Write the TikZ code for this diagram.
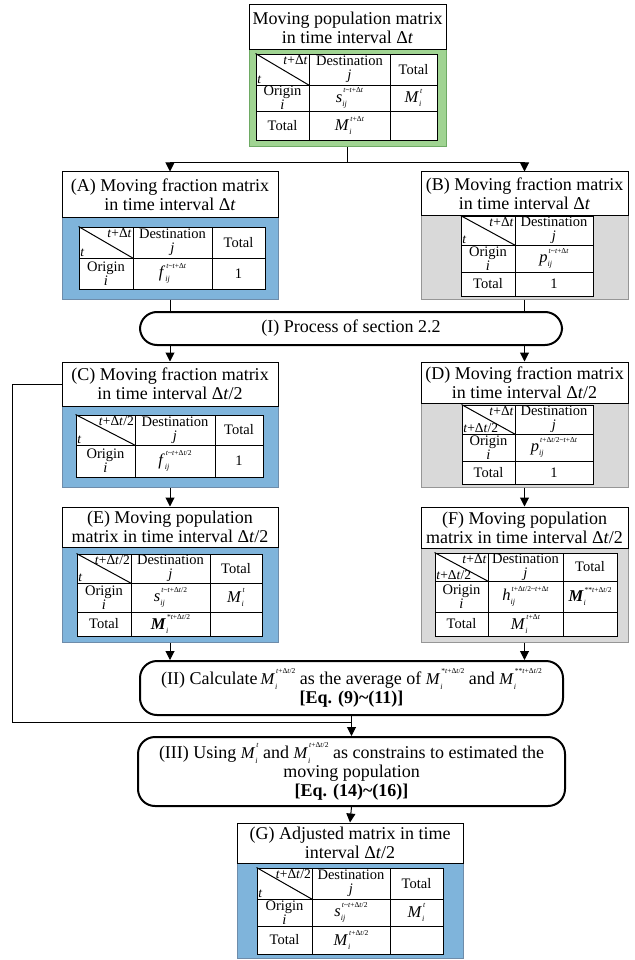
\documentclass[tikz,border=0pt]{standalone}
\usepackage{fontspec}
\setmainfont{Liberation Serif}
\usetikzlibrary{arrows.meta}

\definecolor{panelblue}{RGB}{127,180,219}
\definecolor{panelblueline}{RGB}{110,140,170}
\definecolor{panelgreen}{RGB}{160,212,146}
\definecolor{panelgreenline}{RGB}{110,170,100}
\definecolor{panelgray}{RGB}{217,217,217}
\definecolor{panelgrayline}{RGB}{150,150,150}

\newcommand{\titlefont}{\fontsize{18}{19}\selectfont}
\newcommand{\tabfont}{\fontsize{14.5}{14}\selectfont}
\newcommand{\cornerfont}{\fontsize{13.5}{13.5}\selectfont}
\newcommand{\Dt}{Δ\textit{t}}
\newcommand{\tsym}[3]{{\fontsize{16.5}{16.5}\selectfont\textit{#1}}\rlap{\raisebox{-0.6ex}{\fontsize{8}{8}\selectfont\textit{#2}}}\hspace{1pt}\raisebox{1.4ex}{\fontsize{7.5}{8}\selectfont #3}}

\tikzset{
  frame/.style = {draw, line width=1pt, fill=white, inner sep=0pt},
  frame text/.style = {inner sep=0pt, align=center, font=\titlefont},
  cell/.style = {draw, line width=0.9pt, fill=white, inner sep=0pt},
  cell text/.style = {inner sep=0pt, align=center, font=\tabfont},
  process/.style = {draw, line width=2pt, rounded corners=17pt, fill=white, inner sep=0pt},
  process text/.style = {inner sep=0pt, align=center, font=\titlefont},
  bluepanel/.style = {draw=panelblueline, line width=1pt, fill=panelblue, inner sep=0pt},
  greenpanel/.style = {draw=panelgreenline, line width=1pt, fill=panelgreen, inner sep=0pt},
  graypanel/.style = {draw=panelgrayline, line width=1pt, fill=panelgray, inner sep=0pt},
  corner/.style = {inner sep=1.5pt, font=\cornerfont},
  link/.style = {line width=1pt},
  flow/.style = {link, -{Triangle[width=9pt,length=9pt]}}
}

% panel behind a table: name, left, top, right, bottom
\newcommand{\panelat}[6][bluepanel]{%
  \node[#1, minimum width={(#5-#3)*1pt}, minimum height={(#6-#4)*1pt}]
    (#2) at ({(#3+#5)/2},{(#4+#6)/2}) {};}
% box with text: name, left, top, right, bottom, text
\newcommand{\boxat}[7][cell]{%
  \node[#1, minimum width={(#5-#3)*1pt}, minimum height={(#6-#4)*1pt}]
    (#2) at ({(#3+#5)/2},{(#4+#6)/2}) {};
  \node[#1 text] (#2-x) at (#2.center) {#7};}
% split header cell
\newcommand{\headcell}[7]{%
  \boxat{#1}{#2}{#3}{#4}{#5}{}
  \draw[link] (#1.north west) -- (#1.south east);
  \node[corner, anchor=north east] (#1-up) at (#1.north east) {#6};
  \node[corner, anchor=south west] (#1-lo) at (#1.south west) {#7};}

\begin{document}
\begin{tikzpicture}[x=1pt, y=-1pt]
  \useasboundingbox (0,0) rectangle (634,960);

  % moving population, interval dt
  \panelat[greenpanel]{topp}{249}{50}{446}{147}
  \boxat[frame]{top}{249}{5}{446}{50}{Moving population matrix\\ in time interval \Dt}
  \headcell{s0}{256}{54}{309}{85}{\textit{t}+\Dt}{\textit{t}}
  \boxat{s1}{309}{54}{390}{85}{Destination\\ \textit{j}}
  \boxat{s2}{390}{54}{437}{85}{Total}
  \boxat{s3}{256}{85}{309}{111}{Origin\\ \textit{i}}
  \boxat{s4}{309}{85}{390}{111}{\tsym{s}{ij}{\textit{t}\textasciitilde\textit{t}+\Dt}}
  \boxat{s5}{390}{85}{437}{111}{\tsym{M}{i}{\textit{t}}}
  \boxat{s6}{256}{111}{309}{140}{Total}
  \boxat{s7}{309}{111}{390}{140}{\tsym{M}{i}{\textit{t}+\Dt}}
  \boxat{s8}{390}{111}{437}{140}{}

  % (A)
  \panelat{ap}{62}{217}{278}{299}
  \boxat[frame]{A}{62}{172}{278}{217}{(A) Moving fraction matrix\\ in time interval \Dt}
  \headcell{a0}{79}{227}{133}{258}{\textit{t}+\Dt}{\textit{t}}
  \boxat{a1}{133}{227}{212}{258}{Destination\\ \textit{j}}
  \boxat{a2}{212}{227}{265}{258}{Total}
  \boxat{a3}{79}{258}{133}{289}{Origin\\ \textit{i}}
  \boxat{a4}{133}{258}{212}{289}{\tsym{f}{ij}{\textit{t}\textasciitilde\textit{t}+\Dt}}
  \boxat{a5}{212}{258}{265}{289}{1}

  % (B)
  \panelat[graypanel]{bp}{421}{215}{628}{299}
  \boxat[frame]{B}{421}{172}{628}{215}{(B) Moving fraction matrix\\ in time interval \Dt}
  \headcell{b0}{461}{216}{515}{245}{\textit{t}+\Dt}{\textit{t}}
  \boxat{b1}{515}{216}{593}{245}{Destination\\ \textit{j}}
  \boxat{b2}{461}{245}{515}{272}{Origin\\ \textit{i}}
  \boxat{b3}{515}{245}{593}{272}{\tsym{p}{ij}{\textit{t}\textasciitilde\textit{t}+\Dt}}
  \boxat{b4}{461}{272}{515}{296}{Total}
  \boxat{b5}{515}{272}{593}{296}{1}

  % (I)
  \boxat[process]{p1}{140}{312}{562}{345}{(I) Process of section 2.2}

  % (C)
  \panelat{cp}{62}{406}{278}{487}
  \boxat[frame]{C}{62}{362}{278}{406}{(C) Moving fraction matrix\\ in time interval \Dt/2}
  \headcell{c0}{76}{415}{135}{445}{\textit{t}+\Dt/2}{\textit{t}}
  \boxat{c1}{135}{415}{215}{445}{Destination\\ \textit{j}}
  \boxat{c2}{215}{415}{263}{445}{Total}
  \boxat{c3}{76}{445}{135}{477}{Origin\\ \textit{i}}
  \boxat{c4}{135}{445}{215}{477}{\tsym{f}{ij}{\textit{t}\textasciitilde\textit{t}+\Dt/2}}
  \boxat{c5}{215}{445}{263}{477}{1}

  % (D)
  \panelat[graypanel]{dp}{421}{403}{628}{487}
  \boxat[frame]{D}{421}{362}{628}{403}{(D) Moving fraction matrix\\ in time interval \Dt/2}
  \headcell{d0}{462}{405}{515}{434}{\textit{t}+\Dt}{\textit{t}+\Dt/2}
  \boxat{d1}{515}{405}{593}{434}{Destination\\ \textit{j}}
  \boxat{d2}{462}{434}{515}{461}{Origin\\ \textit{i}}
  \boxat{d3}{515}{434}{593}{461}{\tsym{p}{ij}{\textit{t}+\Dt/2\textasciitilde\textit{t}+\Dt}}
  \boxat{d4}{462}{461}{515}{484}{Total}
  \boxat{d5}{515}{461}{593}{484}{1}

  % (E)
  \panelat{ep}{62}{547}{278}{642}
  \boxat[frame]{E}{62}{507}{278}{547}{(E) Moving population\\ matrix in time interval \Dt/2}
  \headcell{e0}{77}{554}{131}{583}{\textit{t}+\Dt/2}{\textit{t}}
  \boxat{e1}{131}{554}{210}{583}{Destination\\ \textit{j}}
  \boxat{e2}{210}{554}{262}{583}{Total}
  \boxat{e3}{77}{583}{131}{612}{Origin\\ \textit{i}}
  \boxat{e4}{131}{583}{210}{612}{\tsym{s}{ij}{\textit{t}\textasciitilde\textit{t}+\Dt/2}}
  \boxat{e5}{210}{583}{262}{612}{\tsym{M}{i}{\textit{t}}}
  \boxat{e6}{77}{612}{131}{636}{Total}
  \boxat{e7}{131}{612}{210}{636}{\tsym{\textbf{M}}{i}{*\textit{t}+\Dt/2}}
  \boxat{e8}{210}{612}{262}{636}{}

  % (F)
  \panelat[graypanel]{fp}{421}{548}{628}{642}
  \boxat[frame]{F}{421}{507}{628}{548}{(F) Moving population\\ matrix in time interval \Dt/2}
  \headcell{f0}{435}{553}{488}{581}{\textit{t}+\Dt}{\textit{t}+\Dt/2}
  \boxat{f1}{488}{553}{563}{581}{Destination\\ \textit{j}}
  \boxat{f2}{563}{553}{617}{581}{Total}
  \boxat{f3}{435}{581}{488}{612}{Origin\\ \textit{i}}
  \boxat{f4}{488}{581}{563}{612}{\tsym{h}{ij}{\textit{t}+\Dt/2\textasciitilde\textit{t}+\Dt}}
  \boxat{f5}{563}{581}{617}{612}{\tsym{\textbf{M}}{i}{**\textit{t}+\Dt/2}}
  \boxat{f6}{435}{612}{488}{636}{Total}
  \boxat{f7}{488}{612}{563}{636}{\tsym{M}{i}{\textit{t}+\Dt}}
  \boxat{f8}{563}{612}{617}{636}{}

  % (II) and (III)
  \boxat[process]{p2}{140}{661}{563}{715}{(II) Calculate\,\tsym{M}{i}{\textit{t}+\Dt/2} as the average of \tsym{M}{i}{*\textit{t}+\Dt/2} and \tsym{M}{i}{**\textit{t}+\Dt/2}\\ \textbf{[Eq. (9)\textasciitilde(11)]}}
  \boxat[process]{p3}{138}{737}{565}{806}{(III) Using \tsym{M}{i}{\textit{t}} and \tsym{M}{i}{\textit{t}+\Dt/2} as constrains to estimated the\\ moving population\\ \textbf{[Eq. (14)\textasciitilde(16)]}}

  % (G)
  \panelat{gp}{237}{863}{463}{958}
  \boxat[frame]{G}{237}{823}{463}{863}{(G) Adjusted matrix in time\\ interval \Dt/2}
  \headcell{g0}{257}{868}{312}{899}{\textit{t}+\Dt/2}{\textit{t}}
  \boxat{g1}{312}{868}{390}{899}{Destination\\ \textit{j}}
  \boxat{g2}{390}{868}{443}{899}{Total}
  \boxat{g3}{257}{899}{312}{926}{Origin\\ \textit{i}}
  \boxat{g4}{312}{899}{390}{926}{\tsym{s}{ij}{\textit{t}\textasciitilde\textit{t}+\Dt/2}}
  \boxat{g5}{390}{899}{443}{926}{\tsym{M}{i}{\textit{t}}}
  \boxat{g6}{257}{926}{312}{954}{Total}
  \boxat{g7}{312}{926}{390}{954}{\tsym{M}{i}{\textit{t}+\Dt/2}}
  \boxat{g8}{390}{926}{443}{954}{}

  % connectors
  \draw[link] (topp.south) -- ++(0,15) coordinate (fork);
  \draw[flow] (fork) -| (A.north);
  \draw[flow] (fork) -| (B.north);
  \draw[link] (ap.south) -- (ap.south |- p1.north);
  \draw[link] (bp.south) -- (bp.south |- p1.north);
  \draw[flow] (p1.south -| C.north) -- (C.north);
  \draw[flow] (p1.south -| D.north) -- (D.north);
  \draw[flow] (cp.south) -- (E.north);
  \draw[flow] (dp.south) -- (F.north);
  \draw[flow] (ep.south) -- (ep.south |- p2.north);
  \draw[flow] (fp.south) -- (fp.south |- p2.north);
  \coordinate (back) at (12,722);
  \draw[flow] (C.west) -| (back) -| (p3.north);
  \draw[link] (p2.south) -- (p2.south |- back);
  \draw[flow] (p3.south) -- (G.north);
\end{tikzpicture}
\end{document}
